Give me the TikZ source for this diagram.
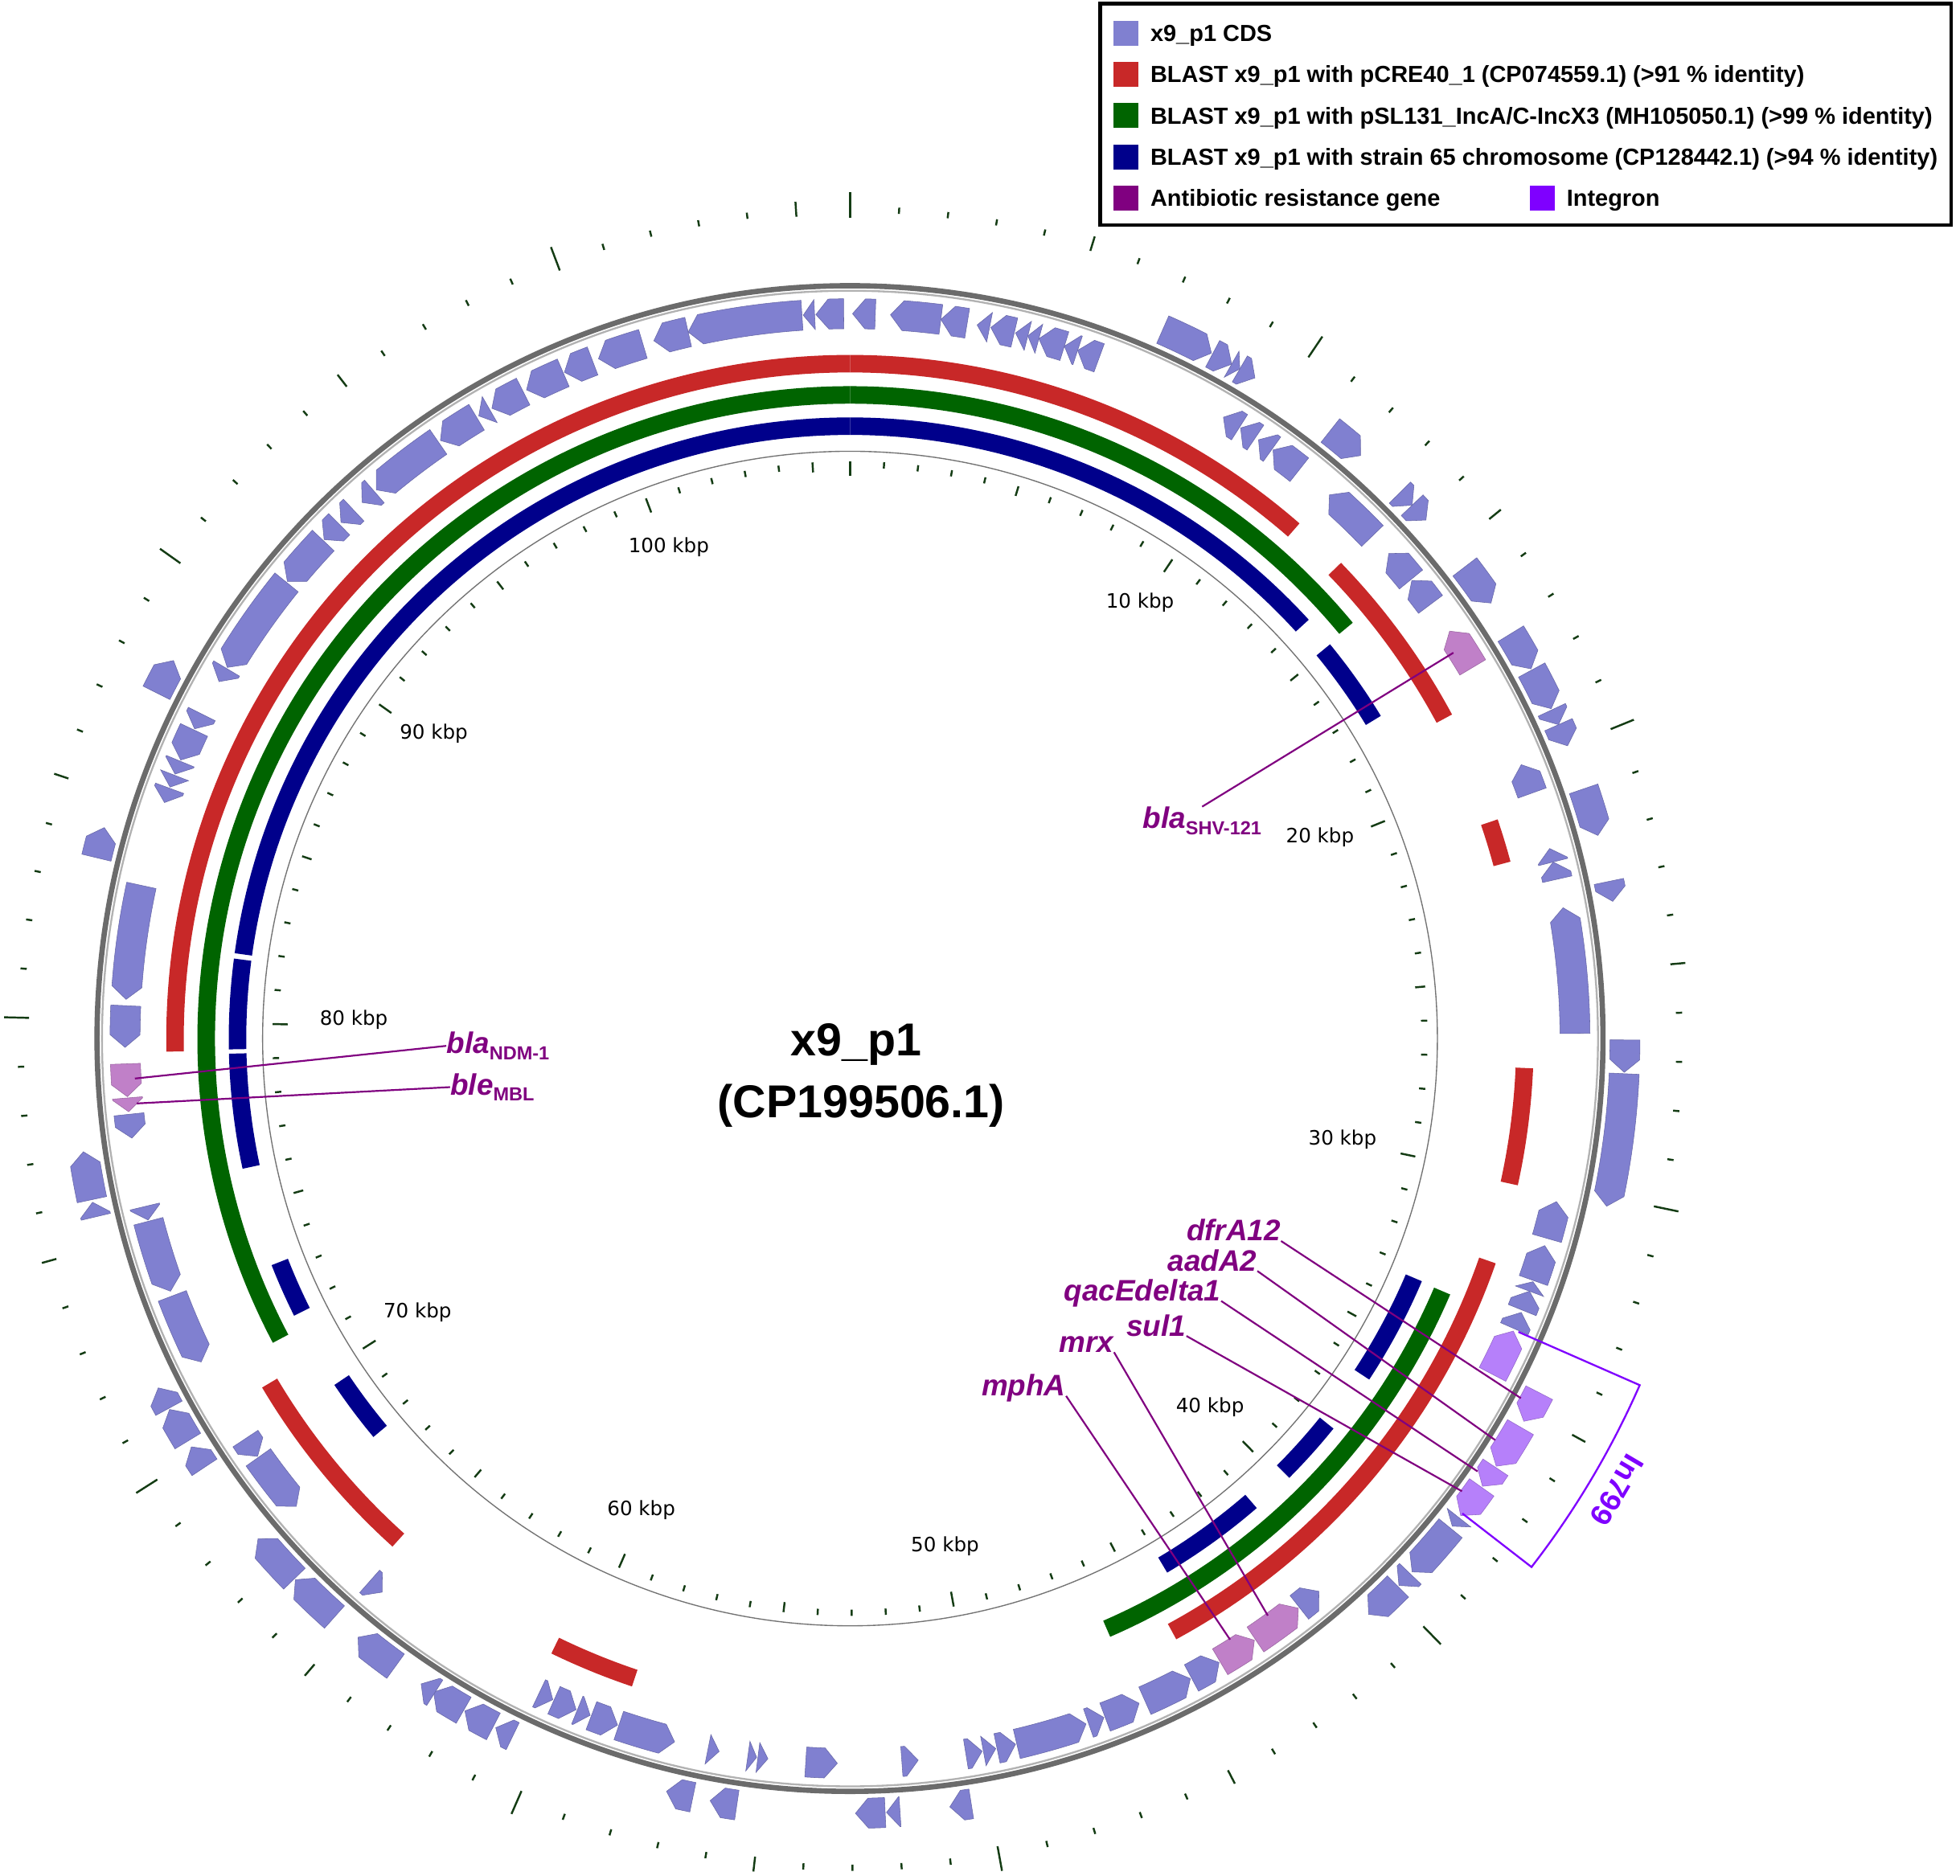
\documentclass[tikz,border=0pt]{standalone}
\usepackage{fontspec}
\setmainfont{Liberation Sans}
\newfontfamily\djv{DejaVu Sans}
\usetikzlibrary{calc}
\definecolor{cdsc}{RGB}{128,128,208}
\definecolor{amrc}{RGB}{192,128,200}
\definecolor{intc}{RGB}{182,128,250}
\definecolor{blred}{RGB}{200,40,40}
\definecolor{blgreen}{RGB}{0,100,0}
\definecolor{blblue}{RGB}{0,0,139}
\definecolor{amrleg}{RGB}{128,0,128}
\definecolor{intleg}{RGB}{127,0,255}
\definecolor{tickc}{RGB}{20,60,20}
% forward feature on outer track, arrow at clockwise end
\newcommand\fwdf[3]{%
 \pgfmathsetmacro\hh{min(0.95,(#2)-(#1))}%
 \pgfmathsetmacro\pa{90-(#1)}%
 \pgfmathsetmacro\pe{90-(#2)}%
 \pgfmathsetmacro\pt{90-(#2)+\hh}%
 \fill[#3] (\pa:632) arc[start angle=\pa, end angle=\pt, radius=12.64cm] -- (\pe:620) -- (\pt:608) arc[start angle=\pt, end angle=\pa, radius=12.16cm] -- cycle;}
% reverse feature on inner track, arrow at counter-clockwise end
\newcommand\revf[3]{%
 \pgfmathsetmacro\hh{min(1.0,(#2)-(#1))}%
 \pgfmathsetmacro\pa{90-(#1)}%
 \pgfmathsetmacro\pe{90-(#2)}%
 \pgfmathsetmacro\pt{90-(#1)-\hh}%
 \fill[#3] (\pe:592) arc[start angle=\pe, end angle=\pt, radius=11.84cm] -- (\pa:580) -- (\pt:568) arc[start angle=\pt, end angle=\pe, radius=11.36cm] -- cycle;}
\newcommand\bandseg[5]{%
 \pgfmathsetmacro\pa{90-(#3)}%
 \pgfmathsetmacro\pe{90-(#4)}%
 \fill[#5] (\pa:#2) arc[start angle=\pa, end angle=\pe, radius=#2*0.02cm] -- (\pe:#1) arc[start angle=\pe, end angle=\pa, radius=#1*0.02cm] -- cycle;}
\newcommand\sbs[1]{{\upshape\fontsize{8.6}{9}\selectfont\raisebox{-2.8pt}{#1}}}
\begin{document}
\begin{tikzpicture}[x=0.02cm,y=0.02cm,
  cdsf/.style={fill=cdsc, draw=cdsc!80!black, line width=0.2pt},
  amrf/.style={fill=amrc, draw=amrc!80!black, line width=0.2pt},
  intf/.style={fill=intc, draw=intc!80!black, line width=0.2pt},
  tk/.style={draw=tickc, line width=0.9pt},
  kbp/.style={font=\djv\fontsize{9}{10}\selectfont, inner sep=0pt},
  gene/.style={font=\bfseries\itshape\fontsize{13.5}{15}\selectfont, text=amrleg, inner sep=0pt, anchor=base west},
  leader/.style={draw=amrleg, line width=0.8pt},
  legtxt/.style={font=\bfseries\fontsize{10.6}{12}\selectfont, anchor=base west, inner sep=0pt},
  legsq/.style={minimum width=0.4cm, minimum height=0.4cm, inner sep=0pt, anchor=center},
]
\useasboundingbox (0,0) rectangle (1568,-1501);
\fill[white] (0,0) rectangle (1568,-1501);
\begin{scope}[shift={(680,-831)}]
 % ticks
 \foreach \k in {0,...,105} {
  \pgfmathsetmacro\th{90-\k*3.39303}
  \pgfmathtruncatemacro\mt{mod(\k,10)}
  \pgfmathtruncatemacro\mf{mod(\k,5)}
  \ifnum\mt=0 \def\ia{450}\def\oa{657}\def\ob{677}\else\ifnum\mf=0 \def\ia{454}\def\oa{659}\def\ob{671}\else\def\ia{457}\def\oa{661}\def\ob{666}\fi\fi
  \draw[tk] (\th:\ia) -- (\th:462);
  \draw[tk] (\th:\oa) -- (\th:\ob);
 }
 \draw[black!55, line width=0.5pt] (0,0) circle[radius=9.4cm];
 % BLAST red
 \foreach \a/\b in {268.9/360,0/41.1,45.9/61.7,71.3/75.0,92.5/102.4,109.2/151.5,198.6/205.9,222.0/239.3}
  {\bandseg{533}{547}{\a}{\b}{blred}}
 % BLAST green
 \foreach \a/\b in {242.2/360,0/50.4,113.1/156.5}
  {\bandseg{508}{522}{\a}{\b}{blgreen}}
 % BLAST blue
 \foreach \a/\b in {277.9/360,0/47.6,269.0/277.4,257.9/268.6,50.6/58.7,113.0/123.3,128.9/135.0,139.1/149.3,243.5/248.6,230.1/236.1}
  {\bandseg{483}{497}{\a}{\b}{blblue}}
 % backbone
 \draw[line width=0.085cm, black!58] (0,0) circle[radius=12.05cm];
 \draw[line width=0.03cm, black!30] (0,0) circle[radius=11.97cm];
 % forward CDS
 \foreach \a/\b in {23.8/27.8,27.9/29.5,29.5/30.2,30.2/31.5,38.3/41.2,45.2/46.5,46.5/48.0,52.5/55.8,58.5/61.5,61.6/64.8,64.9/66.1,66.1/67.8,71.2/74.8,78.3/79.8,90.1/92.5,92.6/102.5,128.2/129.0,129.2/133.5,133.7/134.9,135.0/138.0,171.0/172.6,176.3/177.3,177.4/179.6,-171.6/-169.6,-168.3/-166.3,-154.2/-152.8,-152.6/-150.2,-150.1/-147.5,-147.6/-146.4,-144.1/-140.6,-138.3/-134.3,-134.2/-130.2,-123.6/-121.8,-121.3/-118.6,-118.5/-116.8,-103.3/-102.2,-102.0/-98.4,-76.5/-74.2,-63.5/-60.8}
  {\fwdf{\a}{\b}{cdsf}}
 % forward integron genes
 \foreach \a/\b in {117.2/119.6,120.1/123.5,123.6/125.3,125.4/128.0}
  {\fwdf{\a}{\b}{intf}}
 % reverse CDS
 \foreach \a/\b in {-71.0/-69.8,-69.7/-68.7,-68.6/-67.5,-67.4/-64.8,-64.7/-63.4,-60.5/-59.3,-59.2/-51.0,-50.9/-46.6,-46.5/-44.8,-44.6/-43.2,-42.3/-41.0,-40.8/-34.6,-34.4/-31.0,-30.8/-29.8,-29.6/-26.8,-26.5/-23.3,-23.2/-20.8,-20.3/-16.6,-15.7/-12.9,-12.9/-3.8,-3.7/-2.8,-2.7/-0.5,0.2/2.0,3.2/7.2,7.2/9.3,10.1/11.1,11.2/13.1,13.2/14.2,14.2/15.1,15.1/17.2,17.2/18.3,18.3/20.1,31.0/32.5,32.6/34.0,34.3/35.6,35.7/38.3,41.4/46.1,48.0/50.7,50.8/53.2,67.8/70.2,74.8/75.9,75.9/77.3,79.6/89.6,103.0/106.0,106.6/109.5,109.6/110.4,110.4/112.0,112.2/113.6,139.7/141.7,149.4/151.9,152.0/156.0,156.5/159.4,159.5/160.8,161.0/166.7,166.8/168.3,168.4/169.4,169.5/170.8,174.6/175.9,-179.0/-176.5,-173.5/-172.7,-172.6/-171.9,-169.6/-168.7,-166.0/-161.4,-161.3/-159.1,-159.0/-157.9,-157.8/-155.9,-155.8/-154.6,-139.8/-138.5,-130.2/-125.3,-125.2/-123.5,-116.5/-110.8,-110.4/-104.6,-104.5/-103.4,-97.9/-96.0,-90.7/-87.4,-86.9/-77.8}
  {\revf{\a}{\b}{cdsf}}
 % reverse AMR genes
 \foreach \a/\b in {55.8/59.2,141.8/146.0,146.1/149.3,-95.8/-94.7,-94.6/-92.0}
  {\revf{\a}{\b}{amrf}}
 % reverse integrase
 \revf{113.8}{117.6}{intf}
 % gene anchor points
 \coordinate (gshv) at (32.6:573);
 \coordinate (gndm) at (183.2:573);
 \coordinate (gble) at (185.2:573);
 \coordinate (gdfr) at (-28.2:609);
 \coordinate (gaad) at (-31.9:608);
 \coordinate (gqac) at (-34.6:610);
 \coordinate (gsul) at (-36.5:609);
 \coordinate (gmrx) at (-54.1:570);
 \coordinate (gmph) at (-57.7:569);
 % In799 bracket
 \draw[intleg, line width=0.85pt] (-23.7:584) -- (-23.7:690) arc[start angle=-23.7, end angle=-37.8, radius=13.8cm] -- (-37.8:620);
 \node[font=\bfseries\fontsize{13.5}{15}\selectfont, text=intleg, rotate=-120.5, inner sep=0pt] (in799) at (-30.5:712) {In799};
\end{scope}
% kbp labels
\node[kbp] (k10) at (912,-482) {10 kbp};
\node[kbp] (k20) at (1056,-670) {20 kbp};
\node[kbp] (k30) at (1074,-912) {30 kbp};
\node[kbp] (k40) at (968,-1126) {40 kbp};
\node[kbp] (k50) at (756,-1237) {50 kbp};
\node[kbp] (k60) at (513,-1208) {60 kbp};
\node[kbp] (k70) at (334,-1050) {70 kbp};
\node[kbp] (k80) at (283,-816) {80 kbp};
\node[kbp] (k90) at (347,-587) {90 kbp};
\node[kbp] (k100) at (535,-438) {100 kbp};
% title
\node[font=\bfseries\fontsize{21}{25}\selectfont, anchor=base, inner sep=0pt] (t1) at (685,-845) {x9\_p1};
\node[font=\bfseries\fontsize{21}{25}\selectfont, anchor=base, inner sep=0pt] (t2) at (689,-894) {(CP199506.1)};
% gene labels
\node[gene] (lshv) at (914,-663) {bla\sbs{SHV-121}};
\node[gene] (lndm) at (357,-843) {bla\sbs{NDM-1}};
\node[gene] (lble) at (360,-876) {ble\sbs{MBL}};
\node[gene] (ldfr) at (949,-993) {dfrA12};
\node[gene] (laad) at (934,-1017) {aadA2};
\node[gene] (lqac) at (851,-1041) {qacEdelta1};
\node[gene] (lsul) at (901,-1069) {sul1};
\node[gene] (lmrx) at (847,-1082) {mrx};
\node[gene] (lmph) at (785,-1117) {mphA};
\draw[leader] (lshv.north) -- (gshv);
\draw[leader] (lndm.west) -- (gndm);
\draw[leader] (lble.west) -- (gble);
\draw[leader] (ldfr.base east) -- (gdfr);
\draw[leader] (laad.base east) -- (gaad);
\draw[leader] (lqac.base east) -- (gqac);
\draw[leader] (lsul.base east) -- (gsul);
\draw[leader] (lmrx.base east) -- (gmrx);
\draw[leader] (lmph.base east) -- (gmph);
% legend
\draw[black, line width=0.06cm, fill=white] (880,-3) rectangle (1561,-180);
\node[legsq, fill=cdsc] (s1) at (901,-26.5) {};
\node[legsq, fill=blred] (s2) at (901,-59.5) {};
\node[legsq, fill=blgreen] (s3) at (901,-92.5) {};
\node[legsq, fill=blblue] (s4) at (901,-125.5) {};
\node[legsq, fill=amrleg] (s5) at (901,-158.5) {};
\node[legsq, fill=intleg] (s6) at (1234,-158.5) {};
\node[legtxt] (e1) at (920,-33.2) {x9\_p1 CDS};
\node[legtxt] (e2) at (920,-66.2) {BLAST x9\_p1 with pCRE40\_1 (CP074559.1) (>91 \% identity)};
\node[legtxt] (e3) at (920,-99.2) {BLAST x9\_p1 with pSL131\_IncA/C-IncX3 (MH105050.1) (>99 \% identity)};
\node[legtxt] (e4) at (920,-132.2) {BLAST x9\_p1 with strain 65 chromosome (CP128442.1) (>94 \% identity)};
\node[legtxt] (e5) at (920,-165.2) {Antibiotic resistance gene};
\node[legtxt] (e6) at (1253,-165.2) {Integron};
\end{tikzpicture}
\end{document}
